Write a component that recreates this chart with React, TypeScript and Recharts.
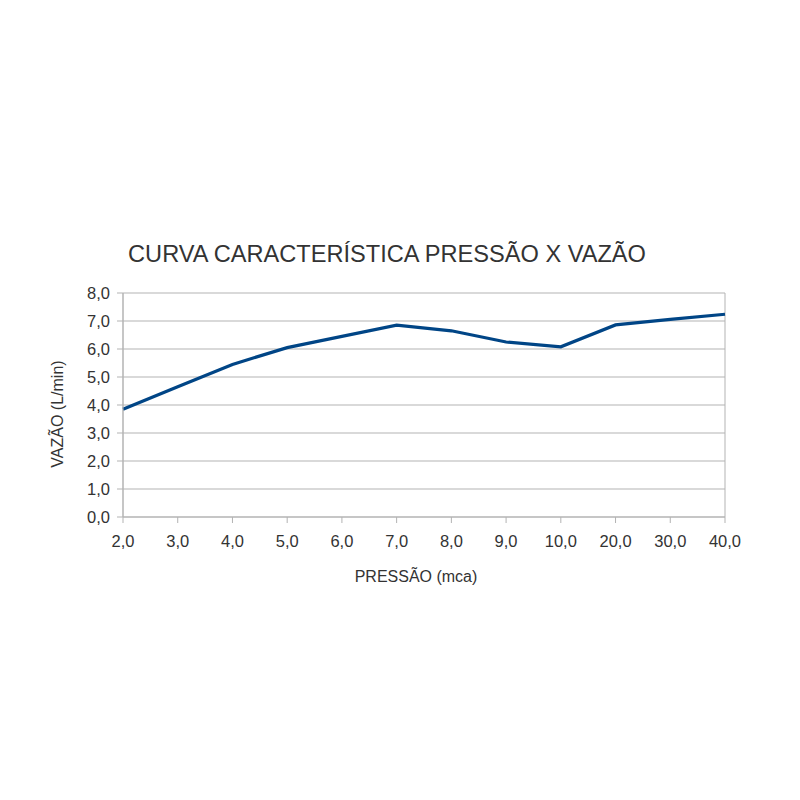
import React from "react";
import { LineChart, Line, XAxis, YAxis, CartesianGrid, Label } from "recharts";

const pressureLabels = ["2,0", "3,0", "4,0", "5,0", "6,0", "7,0", "8,0", "9,0", "10,0", "20,0", "30,0", "40,0"];
const flowValues = [3.85, 4.65, 5.45, 6.05, 6.45, 6.85, 6.65, 6.25, 6.08, 6.86, 7.06, 7.24];
const yTicks = [0, 1, 2, 3, 4, 5, 6, 7, 8];

const data = pressureLabels.map((p, i) => ({ pressao: p, vazao: flowValues[i] }));

const FONT = "'Liberation Sans', Arial, sans-serif";

export default function App() {
  return (
    <div style={{ position: "absolute", left: 0, top: 0, width: 800, height: 800, background: "#fff" }}>
      <div
        style={{
          position: "absolute",
          left: 0,
          width: 774,
          top: 240,
          textAlign: "center",
          fontFamily: FONT,
          fontSize: 23.6,
          color: "#333333",
          lineHeight: "28px",
        }}
      >
        CURVA CARACTERÍSTICA PRESSÃO X VAZÃO
      </div>
      <LineChart
        width={800}
        height={800}
        data={data}
        margin={{ top: 293, right: 75, bottom: 213, left: 63 }}
      >
        <CartesianGrid
          stroke="#b3b3b3"
          strokeWidth={1}
          verticalCoordinatesGenerator={(props: any) => {
            const o = props.offset;
            return [o.left, o.left + o.width];
          }}
        />
        <XAxis
          dataKey="pressao"
          type="category"
          interval={0}
          axisLine={{ stroke: "#b3b3b3" }}
          tickLine={{ stroke: "#b3b3b3" }}
          tickSize={6}
          tickMargin={12}
          tick={{ fill: "#333333", fontSize: 16.5, fontFamily: FONT }}
          height={70}
        >
          <Label
            value="PRESSÃO (mca)"
            position="insideBottom"
            offset={0}
            dx={-8}
            dy={-5}
            style={{ fill: "#333333", fontSize: 16, fontFamily: FONT }}
          />
        </XAxis>
        <YAxis
          domain={[0, 8]}
          ticks={yTicks}
          interval={0}
          width={60}
          axisLine={{ stroke: "#b3b3b3" }}
          tickLine={{ stroke: "#b3b3b3" }}
          tickSize={6}
          tickMargin={7}
          tickFormatter={(v: number) => v.toFixed(1).replace(".", ",")}
          tick={{ fill: "#333333", fontSize: 16.5, fontFamily: FONT }}
        >
          <Label
            value="VAZÃO (L/min)"
            angle={-90}
            position="insideLeft"
            offset={0}
            dx={-6}
            dy={9}
            style={{ fill: "#333333", fontSize: 16, fontFamily: FONT, textAnchor: "middle" }}
          />
        </YAxis>
        <Line
          type="linear"
          dataKey="vazao"
          stroke="#004586"
          strokeWidth={3.2}
          dot={false}
          isAnimationActive={false}
        />
      </LineChart>
    </div>
  );
}
